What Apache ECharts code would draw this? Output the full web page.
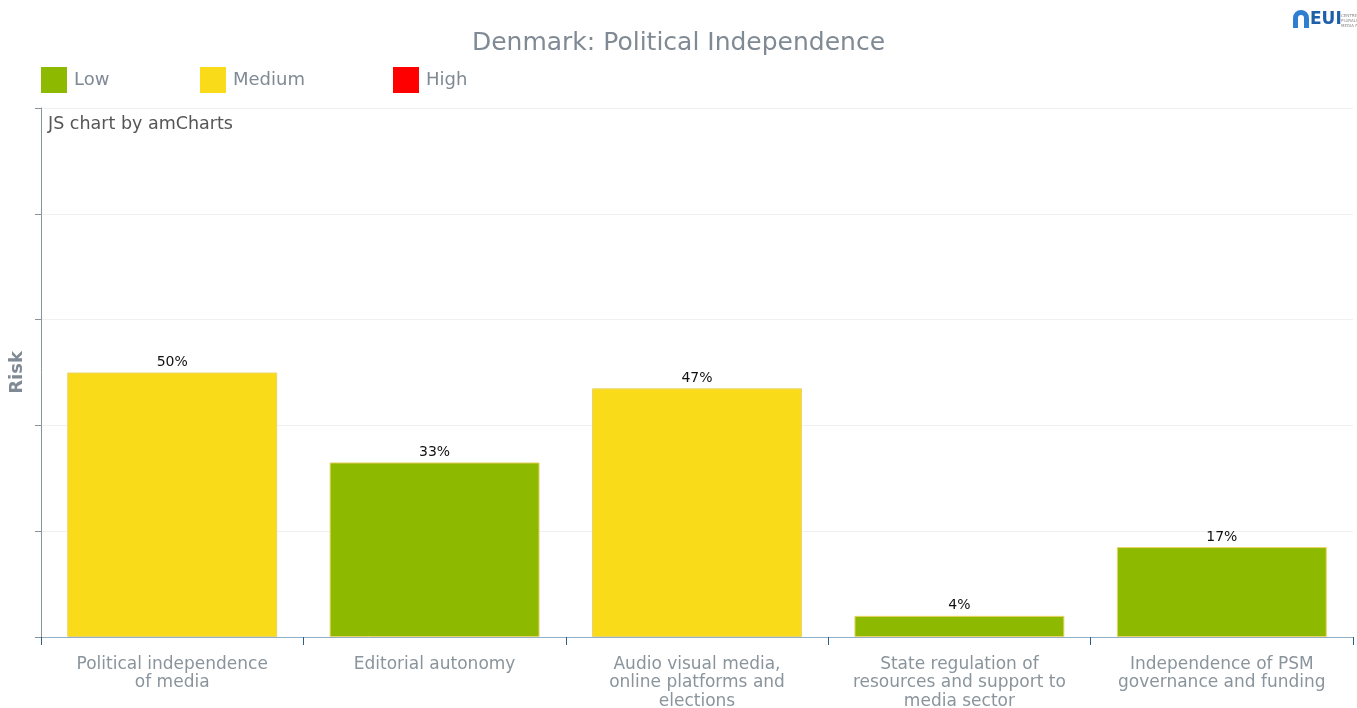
<!DOCTYPE html>
<html>
<head>
<meta charset="utf-8">
<style>html,body{margin:0;padding:0;background:#fff}#c{width:1357px;height:708px}</style>
<script src="https://cdn.jsdelivr.net/npm/echarts@6/dist/echarts.min.js"></script>
</head>
<body>
<div id="c"></div>
<script>
var categories = ["Political independence\nof media", "Editorial autonomy", "Audio visual media,\nonline platforms and\nelections", "State regulation of\nresources and support to\nmedia sector", "Independence of PSM\ngovernance and funding"];
var values = [50, 33, 47, 4, 17];
var levels = ["Medium", "Low", "Medium", "Low", "Low"];
var levelNames = ["Low", "Medium", "High"];
var levelColors = ["#8DB900", "#FADB19", "#FF0000"];
var yTicks = [0, 20, 40, 60, 80, 100];

var chart = echarts.init(document.getElementById('c'));
var F = 'DejaVu Sans, Verdana, sans-serif';
var series = levelNames.map(function (lv, i) {
  return {
    name: lv,
    type: 'bar',
    stack: 'risk',
    barCategoryGap: '20%',
    itemStyle: { color: levelColors[i], borderColor: '#ecd46a', borderWidth: 1 },
    label: { show: true, position: 'top', distance: 3, color: '#111', fontSize: 14, fontFamily: F, formatter: '{c}%' },
    data: values.map(function (v, k) { return levels[k] === lv ? v : '-'; })
  };
});
var legendLefts = [41, 200, 393];
var legends = levelNames.map(function (lv, i) {
  return {
    left: legendLefts[i], top: 67, padding: 0, itemWidth: 26, itemHeight: 26, icon: 'rect',
    itemStyle: { borderWidth: 0 },
    textStyle: { color: '#7f8a94', fontSize: 18, fontFamily: F, padding: [0, 0, 0, 2] },
    data: [lv]
  };
});
chart.setOption({
  animation: false,
  textStyle: { fontFamily: F },
  title: { text: 'Denmark: Political Independence', left: 'center', top: 31, padding: 0, textStyle: { color: '#7f8a94', fontSize: 25, fontWeight: 'normal', fontFamily: F } },
  legend: legends,
  grid: { left: 41, right: 4, top: 108, bottom: 71, containLabel: false, outerBoundsMode: 'none' },
  xAxis: {
    type: 'category', data: categories,
    axisLine: { lineStyle: { color: '#8fb0c8', width: 1 } },
    axisTick: { show: true, length: 8, lineStyle: { color: '#2f5f80' } },
    axisLabel: { color: '#8a949c', fontSize: 17, lineHeight: 18.5, margin: 18, fontFamily: F, interval: 0 }
  },
  yAxis: {
    type: 'value', min: yTicks[0], max: yTicks[yTicks.length - 1], interval: 20,
    name: 'Risk', nameLocation: 'middle', nameGap: 15, nameRotate: 90,
    nameTextStyle: { color: '#7f8a94', fontSize: 18, fontWeight: 'bold', fontFamily: F },
    axisLine: { show: true, lineStyle: { color: '#8a9399' } },
    axisTick: { show: true, length: 6, lineStyle: { color: '#8a9399' } },
    axisLabel: { show: false },
    splitLine: { lineStyle: { color: '#f0f0f0' } }
  },
  graphic: [
    { type: 'text', left: 48, top: 115, style: { text: 'JS chart by amCharts', fill: '#555', fontSize: 17.5, fontFamily: F } },
    { type: 'sector', shape: { cx: 1301, cy: 18, r: 8, r0: 3, startAngle: Math.PI, endAngle: 2 * Math.PI }, style: { fill: '#2e7fd0' } },
    { type: 'rect', shape: { x: 1293, y: 18, width: 5, height: 10 }, style: { fill: '#2e7fd0' } },
    { type: 'rect', shape: { x: 1304, y: 18, width: 5, height: 10 }, style: { fill: '#2e7fd0' } },
    { type: 'text', x: 1310, y: 11, style: { text: 'EUI', fill: '#1f5fa8', fontSize: 17, fontWeight: 'bold', fontFamily: F } },
    { type: 'text', x: 1341, y: 13, style: { text: 'CENTRE FC\nPLURALISM\nMEDIA FRE', fill: '#888', fontSize: 4, lineHeight: 5, fontFamily: F } }
  ],
  series: series
});
</script>
</body>
</html>
